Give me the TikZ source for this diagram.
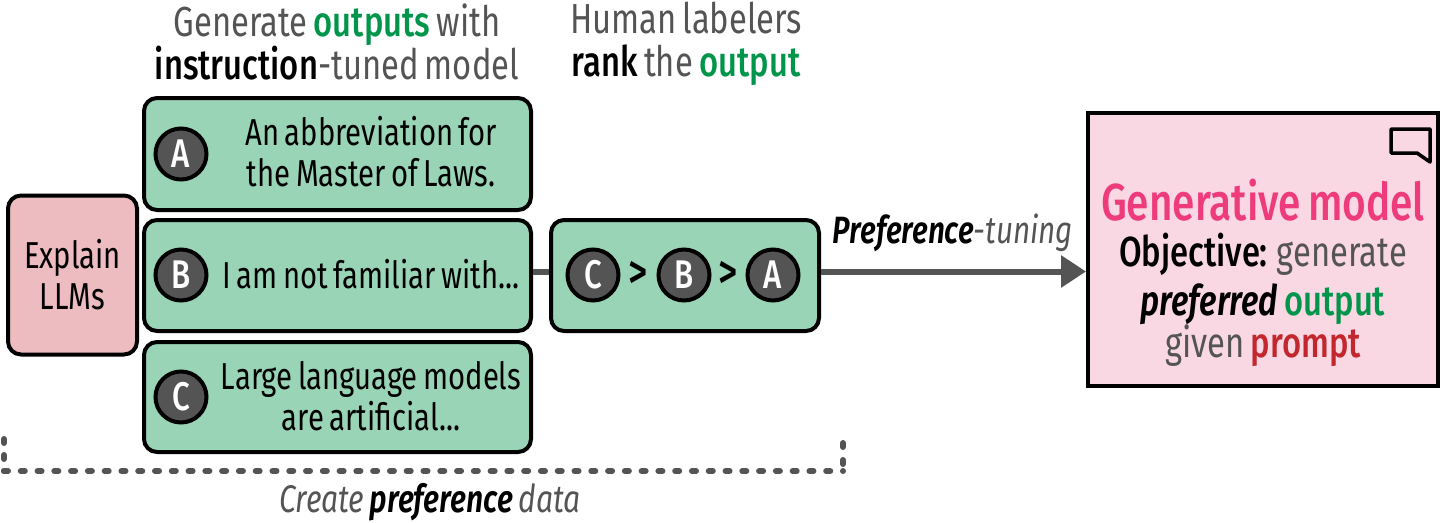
\documentclass[tikz,border=0pt]{standalone}
\usepackage{fontspec}
\setmainfont[FakeStretch=0.78,WordSpace=0.72,ItalicFont={Fira Sans Italic},BoldFont={Fira Sans Medium},BoldItalicFont={Fira Sans SemiBold Italic}]{Fira Sans}
\usetikzlibrary{arrows.meta}
\definecolor{boxgreen}{HTML}{9AD4B7}
\definecolor{boxred}{HTML}{ECBCC0}
\definecolor{boxpink}{HTML}{F9D7E3}
\definecolor{txtgray}{HTML}{545454}
\definecolor{txtgreen}{HTML}{00954A}
\definecolor{txtred}{HTML}{C1272D}
\definecolor{txtpink}{HTML}{EE3B7B}
\newcommand{\gn}[1]{\textcolor{txtgreen}{\textbf{#1}}}
\tikzset{
  x=1pt,y=-1pt,
  card/.style={draw=black,line width=4pt,rounded corners=13pt,fill=boxgreen,inner sep=0pt},
  badge/.style={circle,draw=black,line width=4pt,fill=txtgray,minimum size=51pt,inner sep=0pt,text=white,font=\fontsize{40}{40}\selectfont\bfseries},
  cardtext/.style={align=center,font=\fontsize{37.5}{41}\selectfont,text=black,inner sep=0pt},
  head/.style={align=center,font=\fontsize{42}{43}\selectfont,text=txtgray,inner sep=0pt},
  flow/.style={draw=txtgray,line width=6pt},
  dotrow/.style={txtgray,line cap=round},
}
\begin{document}
\begin{tikzpicture}
\useasboundingbox (0,0) rectangle (1440,522);
\node[head] (h1) at (337,42) {Generate \gn{outputs} with\\\textcolor{black}{\textbf{instruction}}-tuned model};
\node[head] (h2) at (686,44) {Human labelers\\\textcolor{black}{\textbf{rank}} the \gn{output}};
\node[draw=black,line width=4pt,rounded corners=13pt,fill=boxred,minimum width=129pt,minimum height=159pt,inner sep=0pt,cardtext] (q) at (72.5,275) {Explain\\LLMs};
\node[card,minimum width=387pt,minimum height=112pt] (ca) at (337.5,154) {};
\node[card,minimum width=387pt,minimum height=111pt] (cb) at (337.5,275.5) {};
\node[card,minimum width=387pt,minimum height=110pt] (cc) at (337.5,397) {};
\node[card,minimum width=268pt,minimum height=111pt] (rk) at (685,275.5) {};
\node[draw=black,line width=4pt,fill=boxpink,minimum width=350pt,minimum height=273pt,inner sep=0pt] (gm) at (1263,249.5) {};
\coordinate (a0) at ([yshift=4pt]cb.east);
\coordinate (a1) at ([yshift=4pt]rk.west);
\coordinate (a2) at ([yshift=4pt]rk.east);
\draw[flow] (a0) -- (a1);
\draw[flow,-{Triangle[length=25pt,width=31pt]}] (a2) -- (a2 -| gm.west);
\node[badge] (ba) at (181,154) {A};
\node[badge] (bb) at (181,275) {B};
\node[badge] (bc) at (181,397) {C};
\node[cardtext] (ta) at (371,152) {An abbreviation for\\the Master of Laws.};
\node[cardtext] (tb) at (371,274) {I am not familiar with...};
\node[cardtext] (tc) at (371,396) {Large language models\\are artificial...};
\node[badge] (r1) at (593,275) {C};
\node[badge] (r2) at (684,275) {B};
\node[badge] (r3) at (773,275) {A};
\node[inner sep=0pt,font=\fontsize{48}{48}\selectfont\bfseries] (g1) at (638.5,275) {>};
\node[inner sep=0pt,font=\fontsize{48}{48}\selectfont\bfseries] (g2) at (728.5,275) {>};
\node[inner sep=0pt,font=\fontsize{38}{38}\selectfont\itshape,text=txtgray] (pt) at (953,233) {\textcolor{black}{\textbf{Preference}}-tuning};
% speech bubble icon
\draw[black,line width=3.5pt,line join=round] (1391,129) -- (1430,129) -- (1430,162) -- (1417,153) -- (1391,153) -- cycle;
\node[inner sep=0pt,font=\fontsize{52}{52}\selectfont\bfseries,text=txtpink] (gt) at (1263,200) {Generative model};
\node[align=center,inner sep=0pt,font=\fontsize{42}{46}\selectfont,text=txtgray] (gd) at (1263,300) {\textcolor{black}{\textbf{Objective:}} generate\\[3pt]\textcolor{black}{\textbf{\textit{preferred}}} \gn{output}\\[-4pt]given \textcolor{txtred}{\textbf{prompt}}};
% dotted bracket
\coordinate (bl) at (4,439);
\coordinate (bm) at (4,471);
\coordinate (brm) at (843,471);
\coordinate (br) at (843,443);
\draw[dotrow,line width=6pt,dash pattern=on 4pt off 12pt] (bl) -- (bm);
\draw[dotrow,line width=6pt,dash pattern=on 4pt off 13pt] (br) -- (brm);
\draw[dotrow,line width=6pt,dash pattern=on 4pt off 12.78pt] (bm) -- (brm);
\node[inner sep=0pt,font=\fontsize{38.5}{38.5}\selectfont\itshape,text=txtgray] (cp) at (430,502) {Create \textcolor{black}{\textbf{preference}} data};
\end{tikzpicture}
\end{document}
